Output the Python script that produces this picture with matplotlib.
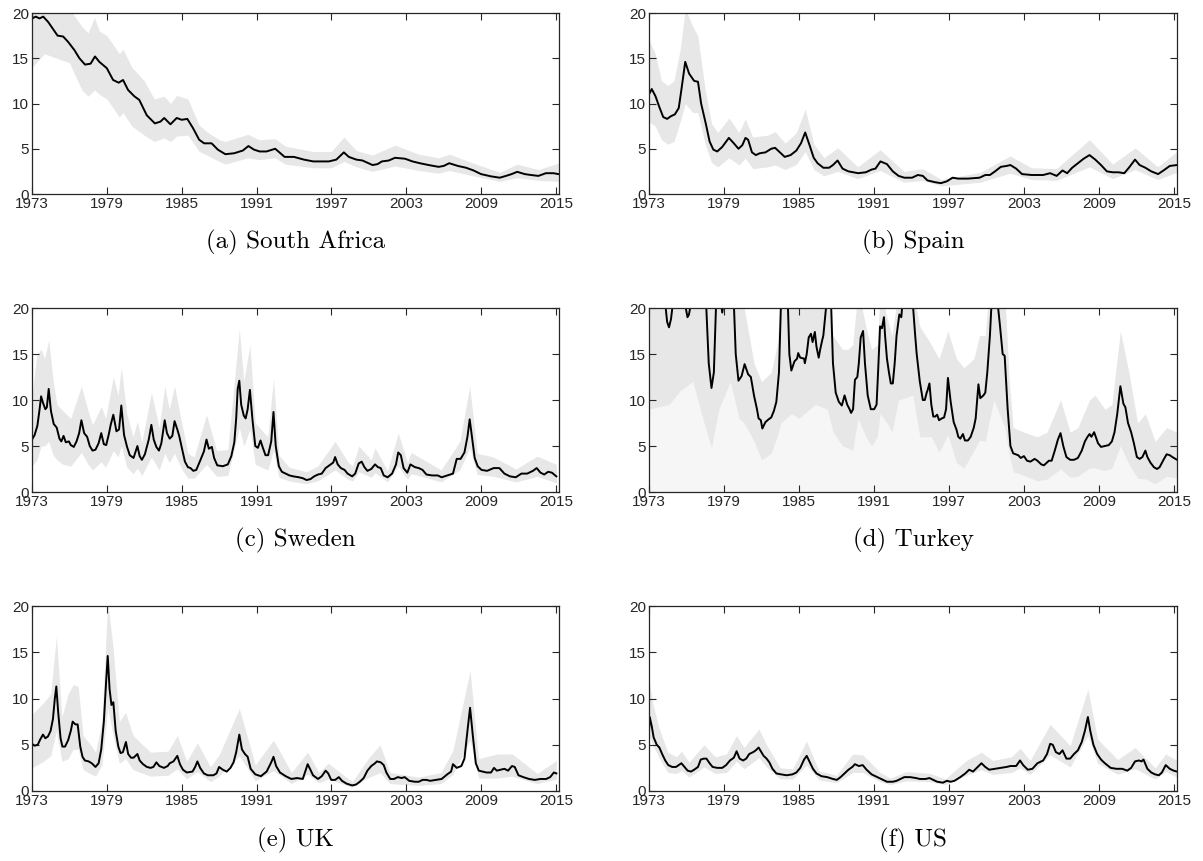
import matplotlib
matplotlib.use("Agg")
import matplotlib.pyplot as plt

# ---- South Africa ----
t_za = [1973.00, 1973.30, 1973.60, 1973.90, 1974.30, 1974.70, 1975.05, 1975.50, 1975.90, 1976.40,
        1976.80, 1977.25, 1977.70, 1978.05, 1978.40, 1979.00, 1979.50, 1979.95, 1980.30, 1980.70,
        1981.20, 1981.60, 1982.20, 1982.85, 1983.30, 1983.60, 1984.10, 1984.60, 1985.00, 1985.45,
        1985.90, 1986.40, 1986.80, 1987.40, 1987.90, 1988.50, 1989.20, 1989.90, 1990.35, 1990.80,
        1991.25, 1991.80, 1992.50, 1993.25, 1994.00, 1994.80, 1995.55, 1996.20, 1996.80, 1997.40,
        1998.00, 1998.40, 1999.00, 1999.50, 2000.30, 2000.70, 2001.05, 2001.60, 2002.10, 2002.90,
        2003.50, 2004.10, 2004.80, 2005.60, 2006.00, 2006.45, 2007.15, 2007.80, 2008.40, 2009.00,
        2009.80, 2010.50, 2011.00, 2011.45, 2011.90, 2012.50, 2013.00, 2013.60, 2014.20, 2014.80,
        2015.20]
m_za = [19.4, 19.6, 19.4, 19.6, 19.0, 18.2, 17.5, 17.4, 16.8, 15.9,
        15.0, 14.3, 14.4, 15.2, 14.6, 13.9, 12.6, 12.3, 12.6, 11.5,
        10.8, 10.4, 8.7, 7.8, 8.0, 8.4, 7.7, 8.4, 8.2, 8.3,
        7.3, 6.0, 5.6, 5.6, 4.9, 4.4, 4.5, 4.8, 5.3, 4.9,
        4.7, 4.7, 5.0, 4.1, 4.1, 3.8, 3.6, 3.6, 3.6, 3.8,
        4.6, 4.1, 3.8, 3.7, 3.2, 3.3, 3.6, 3.7, 4.0, 3.9,
        3.6, 3.4, 3.2, 3.0, 3.1, 3.4, 3.1, 2.9, 2.6, 2.2,
        1.95, 1.8, 2.0, 2.2, 2.45, 2.2, 2.1, 2.0, 2.3, 2.3,
        2.2]
bt_za = [1973.0, 1974.0, 1975.0, 1976.0, 1977.0, 1977.5, 1978.0, 1978.4, 1979.0, 1980.0,
         1980.3, 1981.0, 1982.0, 1982.8, 1983.6, 1984.1, 1984.6, 1985.5, 1986.4, 1987.0,
         1988.0, 1988.5, 1990.3, 1991.2, 1992.5, 1993.3, 1995.5, 1997.0, 1998.0, 1999.0,
         2000.3, 2002.1, 2004.0, 2005.6, 2006.45, 2008.4, 2010.5, 2011.9, 2013.6, 2015.2]
lo_za = [14.0, 15.5, 15.0, 14.5, 11.5, 10.8, 11.5, 11.0, 10.5, 8.5,
         9.0, 7.5, 6.5, 5.8, 6.2, 5.8, 6.4, 6.5, 4.7, 4.3,
         3.6, 3.3, 4.0, 3.8, 4.0, 3.3, 2.9, 2.9, 3.6, 3.0,
         2.5, 3.1, 2.6, 2.3, 2.6, 2.0, 1.4, 1.8, 1.5, 1.4]
hi_za = [20.5, 21.0, 21.0, 20.5, 18.5, 17.8, 19.5, 18.0, 17.5, 15.5,
         16.0, 14.0, 12.5, 10.5, 10.8, 10.0, 10.9, 10.5, 7.6, 6.9,
         6.0, 5.8, 6.6, 6.0, 6.1, 5.3, 4.7, 4.7, 6.3, 4.8,
         4.3, 5.4, 4.4, 4.0, 4.4, 3.4, 2.4, 3.3, 2.7, 3.4]

# ---- Spain ----
t_es = [1973.00, 1973.22, 1973.52, 1973.83, 1974.14, 1974.45, 1974.76, 1975.07, 1975.38, 1975.59,
        1975.90, 1976.21, 1976.61, 1976.92, 1977.17, 1977.54, 1977.85, 1978.15, 1978.46, 1978.86,
        1979.39, 1979.79, 1980.16, 1980.47, 1980.72, 1980.93, 1981.24, 1981.55, 1981.86, 1982.32,
        1982.78, 1983.09, 1983.40, 1983.86, 1984.33, 1984.79, 1985.16, 1985.50, 1985.87, 1986.18,
        1986.49, 1986.95, 1987.41, 1987.72, 1988.09, 1988.49, 1988.96, 1989.73, 1990.35, 1990.81,
        1991.12, 1991.52, 1992.04, 1992.51, 1992.97, 1993.43, 1994.05, 1994.51, 1994.91, 1995.28,
        1995.90, 1996.36, 1996.83, 1997.29, 1997.75, 1998.52, 1999.45, 1999.91, 2000.28, 2000.69,
        2001.15, 2001.61, 2001.92, 2002.38, 2002.85, 2003.62, 2004.54, 2005.10, 2005.62, 2006.09,
        2006.46, 2006.86, 2007.32, 2007.78, 2008.25, 2008.71, 2009.17, 2009.64, 2010.10, 2010.56,
        2011.03, 2011.40, 2011.89, 2012.26, 2012.72, 2013.19, 2013.74, 2014.17, 2014.67, 2015.25]
m_es = [11.0, 11.6, 10.8, 9.6, 8.5, 8.3, 8.6, 8.8, 9.5, 11.5,
        14.6, 13.3, 12.5, 12.4, 10.0, 7.8, 5.8, 4.9, 4.7, 5.2,
        6.2, 5.6, 5.0, 5.4, 6.2, 6.0, 4.6, 4.3, 4.5, 4.6,
        5.0, 5.1, 4.7, 4.1, 4.3, 4.8, 5.6, 6.8, 5.3, 4.0,
        3.4, 2.9, 2.9, 3.2, 3.7, 2.8, 2.5, 2.3, 2.4, 2.7,
        2.8, 3.6, 3.3, 2.5, 2.0, 1.8, 1.8, 2.1, 2.0, 1.5,
        1.3, 1.2, 1.4, 1.8, 1.7, 1.7, 1.8, 2.1, 2.1, 2.5,
        3.0, 3.1, 3.2, 2.8, 2.2, 2.1, 2.1, 2.3, 2.0, 2.6,
        2.3, 2.9, 3.4, 3.9, 4.3, 3.8, 3.2, 2.5, 2.4, 2.4,
        2.3, 2.9, 3.8, 3.2, 2.9, 2.5, 2.2, 2.6, 3.1, 3.2]
bt_es = [1973.0, 1973.5, 1974.0, 1974.5, 1975.0, 1975.5, 1975.9, 1976.5, 1976.9, 1977.5,
         1978.0, 1978.5, 1979.4, 1980.2, 1980.7, 1981.3, 1982.5, 1983.1, 1983.9, 1984.8,
         1985.5, 1986.2, 1987.0, 1988.1, 1989.7, 1991.5, 1993.4, 1994.9, 1996.4, 1999.5,
         2001.9, 2003.6, 2005.6, 2008.25, 2010.1, 2011.9, 2013.7, 2015.25]
lo_es = [8.0, 7.5, 6.0, 5.5, 5.8, 8.0, 10.0, 9.0, 9.0, 5.5,
         3.5, 3.0, 4.0, 3.2, 4.0, 2.8, 3.0, 3.2, 2.7, 3.3,
         4.7, 2.7, 2.0, 2.5, 1.7, 2.6, 1.3, 1.5, 0.9, 1.3,
         2.3, 1.6, 1.5, 3.0, 1.7, 2.7, 1.6, 2.4]
hi_es = [17.0, 15.5, 12.5, 12.0, 12.5, 16.0, 20.5, 18.5, 17.5, 11.5,
         7.8, 6.8, 8.4, 6.8, 8.3, 6.3, 6.5, 6.9, 5.6, 6.8,
         9.4, 5.5, 4.0, 5.1, 3.0, 4.9, 2.5, 2.8, 1.6, 2.4,
         4.2, 2.9, 2.8, 6.0, 3.3, 5.1, 3.0, 4.7]

# ---- Sweden ----
t_se = [1973.00, 1973.21, 1973.43, 1973.61, 1973.73, 1973.88, 1974.07, 1974.19, 1974.34, 1974.52,
        1974.74, 1974.98, 1975.20, 1975.35, 1975.53, 1975.71, 1975.96, 1976.11, 1976.35, 1976.57,
        1976.78, 1976.96, 1977.18, 1977.42, 1977.63, 1977.85, 1978.09, 1978.34, 1978.55, 1978.76,
        1978.95, 1979.16, 1979.31, 1979.52, 1979.77, 1979.98, 1980.16, 1980.38, 1980.62, 1980.84,
        1981.14, 1981.45, 1981.63, 1981.81, 1982.05, 1982.36, 1982.57, 1982.76, 1982.97, 1983.18,
        1983.37, 1983.64, 1983.82, 1984.04, 1984.25, 1984.43, 1984.65, 1984.80, 1985.01, 1985.26,
        1985.50, 1985.71, 1985.93, 1986.17, 1986.48, 1986.78, 1986.99, 1987.18, 1987.42, 1987.60,
        1987.85, 1988.30, 1988.70, 1988.98, 1989.22, 1989.37, 1989.49, 1989.62, 1989.77, 1989.98,
        1990.13, 1990.29, 1990.47, 1990.68, 1990.90, 1991.11, 1991.32, 1991.51, 1991.72, 1991.93,
        1992.18, 1992.36, 1992.54, 1992.79, 1993.03, 1993.34, 1993.64, 1993.95, 1994.40, 1994.71,
        1995.01, 1995.32, 1995.62, 1995.93, 1996.23, 1996.54, 1996.84, 1997.15, 1997.30, 1997.51,
        1997.76, 1998.06, 1998.30, 1998.67, 1998.91, 1999.19, 1999.43, 1999.65, 1999.89, 2000.20,
        2000.50, 2000.74, 2000.96, 2001.20, 2001.51, 2001.87, 2002.18, 2002.36, 2002.57, 2002.79,
        2003.09, 2003.34, 2003.70, 2004.01, 2004.31, 2004.62, 2005.07, 2005.53, 2005.84, 2006.29,
        2006.75, 2007.05, 2007.36, 2007.67, 2007.91, 2008.09, 2008.27, 2008.49, 2008.73, 2009.04,
        2009.49, 2010.01, 2010.47, 2010.87, 2011.32, 2011.78, 2012.24, 2012.70, 2013.16, 2013.46,
        2013.77, 2014.07, 2014.38, 2014.68, 2015.04]
m_se = [5.7, 6.2, 7.2, 9.0, 10.4, 9.7, 9.0, 9.2, 11.2, 8.8,
        7.4, 7.0, 5.8, 5.5, 6.1, 5.4, 5.5, 5.1, 4.9, 5.5,
        6.4, 7.8, 6.4, 6.0, 5.0, 4.5, 4.6, 5.3, 6.4, 5.2,
        5.1, 6.3, 7.3, 8.4, 6.6, 6.8, 9.4, 6.2, 4.9, 4.0,
        3.7, 5.0, 3.9, 3.5, 4.1, 5.7, 7.3, 5.7, 4.9, 4.5,
        5.3, 7.8, 6.4, 5.8, 6.1, 7.7, 6.8, 6.1, 4.8, 3.3,
        2.7, 2.6, 2.3, 2.4, 3.4, 4.4, 5.7, 4.7, 4.9, 3.7,
        2.9, 2.8, 3.0, 3.9, 5.4, 8.0, 11.2, 12.1, 9.5, 8.3,
        8.0, 9.0, 11.1, 7.8, 5.0, 4.8, 5.6, 4.8, 4.0, 4.0,
        5.5, 8.7, 5.0, 2.8, 2.2, 2.0, 1.8, 1.7, 1.6, 1.5,
        1.3, 1.4, 1.7, 1.9, 2.0, 2.6, 2.9, 3.2, 3.8, 3.0,
        2.6, 2.4, 2.0, 1.7, 2.0, 3.1, 3.3, 2.7, 2.3, 2.5,
        3.0, 2.7, 2.6, 1.8, 1.6, 2.0, 3.0, 4.3, 4.0, 2.6,
        2.1, 3.0, 2.7, 2.6, 2.4, 1.9, 1.8, 1.8, 1.6, 1.8,
        2.0, 3.6, 3.6, 4.3, 6.0, 7.9, 6.0, 3.7, 2.8, 2.4,
        2.3, 2.6, 2.6, 2.0, 1.7, 1.6, 2.0, 2.0, 2.3, 2.6,
        2.1, 1.9, 2.2, 2.1, 1.7]
bt_se = [1973.0, 1973.4, 1973.73, 1974.0, 1974.34, 1974.7, 1975.0, 1975.5, 1976.1, 1976.96,
         1977.5, 1977.85, 1978.55, 1978.9, 1979.52, 1979.9, 1980.16, 1980.6, 1981.1, 1981.45,
         1981.8, 1982.57, 1983.2, 1983.64, 1984.0, 1984.43, 1985.0, 1985.5, 1986.0, 1986.99,
         1987.8, 1988.7, 1989.62, 1989.98, 1990.47, 1990.9, 1991.9, 1992.36, 1992.8, 1993.6,
         1995.0, 1995.9, 1997.3, 1998.3, 1998.7, 1999.2, 2000.2, 2000.5, 2001.5, 2002.36,
         2003.1, 2003.4, 2005.8, 2007.3, 2008.09, 2008.7, 2010.0, 2011.8, 2013.5, 2015.04]
lo_se = [2.8, 3.5, 5.0, 5.0, 5.5, 4.0, 3.5, 3.0, 2.8, 4.3,
         3.0, 2.4, 3.3, 2.7, 4.5, 3.8, 5.0, 2.7, 2.0, 2.6,
         1.8, 3.8, 2.4, 4.2, 3.2, 4.2, 2.5, 1.5, 1.5, 3.0,
         1.7, 1.8, 7.0, 5.0, 6.8, 3.0, 2.4, 4.5, 1.6, 1.2,
         0.9, 1.2, 2.4, 1.4, 1.2, 2.2, 1.6, 2.1, 1.1, 2.8,
         1.4, 2.0, 1.1, 2.4, 4.8, 1.9, 1.7, 1.1, 1.7, 1.0]
hi_se = [10.5, 15.0, 15.5, 14.5, 16.5, 12.0, 9.5, 8.8, 8.0, 11.5,
         8.8, 7.3, 9.3, 8.0, 12.5, 10.5, 13.5, 8.5, 6.0, 7.7,
         5.4, 10.8, 7.0, 11.5, 9.0, 11.5, 7.5, 4.2, 3.8, 8.4,
         4.5, 4.6, 17.7, 12.0, 16.0, 7.5, 6.0, 12.3, 4.0, 2.7,
         2.2, 2.8, 5.5, 3.3, 2.8, 5.0, 3.5, 4.8, 2.3, 6.4,
         3.2, 4.3, 2.4, 5.5, 11.5, 4.2, 3.8, 2.5, 3.9, 3.0]

# ---- Turkey (values above 20 run off the top of the panel) ----
t_tr = [1973.00, 1973.68, 1974.30, 1974.45, 1974.60, 1974.76, 1974.91, 1975.38, 1975.90, 1976.08,
        1976.20, 1976.33, 1976.92, 1977.57, 1977.78, 1978.00, 1978.19, 1978.37, 1978.77, 1978.86,
        1978.96, 1979.39, 1979.79, 1979.94, 1980.16, 1980.41, 1980.65, 1980.93, 1981.15, 1981.40,
        1981.64, 1981.77, 1981.95, 1982.07, 1982.32, 1982.57, 1982.78, 1982.99, 1983.19, 1983.40,
        1983.56, 1983.86, 1984.11, 1984.23, 1984.39, 1984.64, 1984.85, 1984.94, 1985.10, 1985.41,
        1985.47, 1985.62, 1985.78, 1985.96, 1986.09, 1986.27, 1986.40, 1986.58, 1986.70, 1986.86,
        1986.95, 1987.20, 1987.41, 1987.57, 1987.72, 1987.94, 1988.19, 1988.43, 1988.65, 1988.86,
        1989.05, 1989.17, 1989.33, 1989.48, 1989.67, 1989.79, 1989.94, 1990.13, 1990.28, 1990.50,
        1990.75, 1991.02, 1991.21, 1991.33, 1991.49, 1991.64, 1991.80, 1991.89, 1992.04, 1992.20,
        1992.35, 1992.51, 1992.66, 1992.81, 1993.03, 1993.19, 1993.28, 1993.68, 1994.11, 1994.30,
        1994.42, 1994.67, 1994.91, 1995.07, 1995.22, 1995.28, 1995.44, 1995.59, 1995.75, 1995.90,
        1996.06, 1996.21, 1996.43, 1996.61, 1996.77, 1996.92, 1997.14, 1997.38, 1997.60, 1997.75,
        1997.91, 1998.12, 1998.28, 1998.52, 1998.74, 1998.99, 1999.14, 1999.36, 1999.51, 1999.76,
        1999.91, 2000.07, 2000.28, 2000.41, 2000.65, 2000.90, 2001.09, 2001.30, 2001.46, 2001.70,
        2001.92, 2002.14, 2002.54, 2002.75, 2003.00, 2003.25, 2003.52, 2003.86, 2004.08, 2004.39,
        2004.60, 2005.00, 2005.22, 2005.47, 2005.72, 2005.93, 2006.15, 2006.40, 2006.70, 2007.01,
        2007.32, 2007.63, 2007.88, 2008.09, 2008.25, 2008.40, 2008.62, 2008.93, 2009.17, 2009.48,
        2009.79, 2010.04, 2010.25, 2010.47, 2010.72, 2010.96, 2011.12, 2011.33, 2011.58, 2011.80,
        2012.04, 2012.26, 2012.48, 2012.72, 2012.88, 2013.12, 2013.40, 2013.65, 2013.86, 2014.17,
        2014.42, 2014.67, 2014.88, 2015.25]
m_tr = [23.0, 23.0, 20.5, 18.5, 17.9, 18.8, 20.5, 23.0, 20.3, 19.0,
        19.3, 20.3, 23.0, 20.5, 14.0, 11.3, 13.0, 20.5, 20.5, 19.5,
        20.5, 23.0, 20.5, 15.0, 12.1, 12.6, 13.9, 12.8, 12.5, 10.5,
        9.0, 8.0, 7.8, 6.9, 7.6, 7.9, 8.1, 8.8, 9.8, 13.0,
        20.5, 23.0, 20.5, 15.0, 13.2, 14.2, 14.5, 15.1, 14.6, 14.5,
        14.0, 15.0, 16.8, 17.2, 16.3, 17.4, 15.8, 14.6, 15.5, 16.5,
        17.0, 20.5, 23.0, 20.5, 14.0, 10.8, 9.8, 9.4, 10.5, 9.5,
        9.0, 8.6, 9.0, 12.2, 12.5, 14.0, 16.8, 17.5, 14.0, 10.5,
        9.0, 9.0, 9.5, 13.0, 18.0, 17.8, 19.0, 17.0, 14.5, 13.0,
        11.8, 11.8, 14.0, 17.0, 19.3, 19.0, 20.5, 23.0, 20.5, 17.0,
        15.0, 12.0, 10.0, 10.0, 10.8, 11.0, 11.8, 9.5, 8.2, 8.2,
        8.4, 7.8, 8.0, 8.1, 9.0, 12.4, 9.8, 7.6, 6.8, 6.0,
        5.8, 6.3, 5.6, 5.6, 6.0, 7.0, 8.0, 11.7, 10.2, 10.5,
        10.8, 13.0, 17.0, 20.5, 23.0, 20.5, 18.0, 15.0, 14.8, 9.0,
        5.0, 4.2, 4.0, 3.7, 3.9, 3.4, 3.3, 3.6, 3.4, 3.0,
        2.9, 3.4, 3.4, 4.5, 5.7, 6.4, 5.0, 3.8, 3.5, 3.5,
        3.7, 4.5, 5.5, 6.0, 6.3, 6.0, 6.5, 5.3, 4.9, 5.0,
        5.1, 5.5, 6.5, 8.5, 11.5, 9.6, 9.2, 7.5, 6.5, 5.3,
        3.8, 3.6, 3.8, 4.5, 3.8, 3.2, 2.7, 2.5, 2.7, 3.5,
        4.1, 4.0, 3.8, 3.5]
bt_tr = [1973.0, 1974.6, 1975.5, 1976.5, 1977.5, 1978.0, 1978.6, 1979.5, 1980.2, 1980.62,
         1981.4, 1982.01, 1982.78, 1983.25, 1983.56, 1984.4, 1985.0, 1986.3, 1987.26, 1987.72,
         1988.49, 1988.9, 1989.3, 1989.73, 1990.35, 1990.81, 1991.27, 1991.5, 1992.04, 1992.44,
         1992.97, 1994.11, 1994.67, 1995.59, 1996.21, 1996.92, 1997.6, 1998.2, 1999.0, 1999.45,
         1999.91, 2000.2, 2000.6, 2001.46, 2001.83, 2002.14, 2003.0, 2004.08, 2004.85, 2005.93,
         2006.7, 2007.32, 2008.25, 2008.7, 2009.48, 2010.04, 2010.72, 2011.4, 2012.1, 2012.72,
         2013.5, 2014.42, 2015.25]
hi_tr = [25.0, 25.0, 25.0, 25.0, 25.0, 25.0, 25.0, 25.0, 22.0, 20.0,
         14.0, 12.0, 13.0, 16.0, 22.0, 25.0, 25.0, 25.0, 22.0, 17.0,
         15.5, 15.5, 16.0, 22.0, 18.0, 15.5, 16.0, 22.0, 19.0, 17.0,
         22.0, 22.0, 18.0, 16.0, 14.5, 17.5, 14.5, 13.5, 14.5, 17.0,
         17.0, 22.0, 25.0, 22.0, 12.0, 7.0, 6.5, 6.0, 6.5, 10.0,
         6.5, 7.0, 10.0, 10.5, 9.0, 9.5, 17.5, 13.0, 7.5, 8.5,
         5.5, 7.0, 6.5]
lo_tr = [9.0, 9.5, 11.0, 12.0, 7.0, 4.8, 9.0, 12.0, 8.0, 7.5,
         5.5, 3.5, 4.2, 6.0, 7.5, 8.5, 8.0, 9.5, 9.0, 6.5,
         5.0, 4.8, 4.5, 8.0, 6.0, 5.0, 6.0, 8.5, 7.5, 6.5,
         10.0, 10.5, 6.0, 6.0, 4.3, 6.2, 3.2, 2.6, 4.5, 5.6,
         5.5, 7.5, 10.0, 7.0, 4.0, 2.2, 1.8, 1.2, 1.4, 2.5,
         1.6, 1.7, 2.6, 2.6, 2.3, 2.6, 5.0, 3.0, 1.5, 1.4,
         0.9, 1.7, 1.5]

# ---- UK ----
t_uk = [1973.00, 1973.21, 1973.46, 1973.67, 1973.88, 1974.07, 1974.28, 1974.49, 1974.68, 1974.83,
        1974.95, 1975.10, 1975.29, 1975.44, 1975.65, 1975.90, 1976.11, 1976.26, 1976.48, 1976.66,
        1976.87, 1977.05, 1977.24, 1977.54, 1977.79, 1978.09, 1978.34, 1978.55, 1978.76, 1978.95,
        1979.07, 1979.22, 1979.37, 1979.52, 1979.71, 1979.92, 1980.10, 1980.29, 1980.53, 1980.71,
        1980.93, 1981.14, 1981.45, 1981.63, 1981.90, 1982.21, 1982.51, 1982.73, 1982.97, 1983.21,
        1983.58, 1983.88, 1984.04, 1984.34, 1984.65, 1984.86, 1985.10, 1985.41, 1985.87, 1986.08,
        1986.26, 1986.48, 1986.78, 1987.09, 1987.54, 1987.79, 1988.00, 1988.30, 1988.61, 1988.91,
        1989.16, 1989.37, 1989.62, 1989.83, 1990.07, 1990.29, 1990.53, 1990.90, 1991.35, 1991.81,
        1992.18, 1992.36, 1992.57, 1992.88, 1993.34, 1993.79, 1994.25, 1994.71, 1995.10, 1995.32,
        1995.53, 1995.93, 1996.23, 1996.54, 1996.75, 1996.99, 1997.30, 1997.60, 1997.85, 1998.21,
        1998.67, 1998.98, 1999.28, 1999.59, 1999.89, 2000.20, 2000.50, 2000.65, 2000.96, 2001.20,
        2001.41, 2001.72, 2002.02, 2002.33, 2002.63, 2002.88, 2003.24, 2003.70, 2004.01, 2004.31,
        2004.62, 2004.92, 2005.38, 2005.84, 2006.29, 2006.60, 2006.75, 2007.05, 2007.42, 2007.67,
        2007.91, 2008.12, 2008.34, 2008.58, 2008.82, 2009.13, 2009.43, 2009.80, 2010.04, 2010.26,
        2010.56, 2010.87, 2011.17, 2011.48, 2011.70, 2012.00, 2012.39, 2012.85, 2013.31, 2013.76,
        2014.22, 2014.54, 2014.84, 2015.04]
m_uk = [5.1, 4.9, 5.0, 5.6, 6.1, 5.7, 5.9, 6.5, 7.8, 10.0,
        11.3, 8.5, 5.7, 4.8, 4.8, 5.5, 6.5, 7.5, 7.2, 7.2,
        4.8, 3.7, 3.3, 3.2, 3.0, 2.6, 3.0, 4.5, 7.5, 12.0,
        14.6, 11.0, 9.3, 9.6, 6.5, 4.8, 4.1, 4.2, 5.3, 4.0,
        3.6, 3.6, 4.0, 3.3, 2.9, 2.6, 2.5, 2.6, 3.1, 2.7,
        2.5, 2.7, 3.0, 3.2, 3.8, 2.9, 2.3, 2.0, 2.1, 2.6,
        3.2, 2.5, 1.9, 1.7, 1.7, 1.9, 2.6, 2.3, 2.1, 2.5,
        3.1, 4.2, 6.1, 4.5, 4.0, 3.7, 2.4, 1.8, 1.6, 2.1,
        3.1, 3.7, 2.7, 2.0, 1.6, 1.3, 1.4, 1.3, 2.9, 2.3,
        1.7, 1.3, 1.6, 2.2, 1.9, 1.2, 1.2, 1.5, 1.1, 0.8,
        0.6, 0.7, 1.0, 1.4, 2.2, 2.7, 3.0, 3.2, 3.1, 2.8,
        2.0, 1.3, 1.3, 1.5, 1.4, 1.5, 1.1, 1.0, 1.0, 1.2,
        1.2, 1.1, 1.2, 1.3, 1.8, 2.1, 2.9, 2.5, 2.7, 3.5,
        6.5, 9.0, 6.0, 3.0, 2.2, 2.1, 2.0, 2.0, 2.5, 2.2,
        2.3, 2.4, 2.2, 2.7, 2.6, 1.7, 1.5, 1.3, 1.2, 1.3,
        1.3, 1.5, 2.0, 1.9]
bt_uk = [1973.0, 1973.9, 1974.5, 1974.95, 1975.4, 1975.9, 1976.3, 1976.7, 1977.1, 1977.8,
         1978.1, 1978.6, 1979.07, 1979.5, 1980.0, 1980.5, 1981.1, 1982.5, 1983.9, 1984.65,
         1985.4, 1986.26, 1987.3, 1988.0, 1989.62, 1990.3, 1990.9, 1992.36, 1993.8, 1995.1,
         1996.0, 1996.75, 1998.67, 1999.9, 2000.9, 2001.7, 2004.0, 2005.8, 2006.75, 2008.12,
         2008.8, 2010.3, 2011.5, 2013.5, 2015.04]
lo_uk = [2.5, 3.2, 3.8, 6.5, 3.2, 3.5, 4.5, 4.5, 2.3, 1.8,
         1.6, 2.8, 9.0, 6.0, 3.0, 3.5, 2.3, 1.6, 1.7, 2.4,
         1.3, 2.1, 1.0, 1.6, 3.8, 2.4, 1.1, 2.2, 0.8, 1.8,
         0.9, 1.3, 0.4, 1.4, 2.0, 0.8, 0.6, 0.8, 1.8, 5.5,
         1.4, 1.4, 1.6, 0.8, 1.3]
hi_uk = [8.3, 9.5, 10.5, 16.7, 8.0, 10.5, 11.5, 11.3, 6.0, 4.8,
         4.2, 7.5, 20.5, 15.5, 7.5, 8.5, 6.0, 4.2, 4.3, 6.0,
         3.2, 5.2, 2.6, 3.9, 8.9, 5.7, 2.8, 5.5, 2.0, 4.2,
         2.0, 3.0, 1.0, 3.4, 5.0, 2.0, 1.5, 2.0, 4.4, 13.0,
         3.5, 4.0, 4.0, 1.9, 3.3]

# ---- US ----
t_us = [1973.00, 1973.06, 1973.22, 1973.37, 1973.62, 1973.83, 1974.05, 1974.30, 1974.54, 1974.85,
        1975.16, 1975.38, 1975.59, 1975.84, 1976.09, 1976.36, 1976.61, 1976.92, 1977.14, 1977.38,
        1977.60, 1977.85, 1978.09, 1978.46, 1978.86, 1979.17, 1979.48, 1979.79, 1980.01, 1980.25,
        1980.53, 1980.78, 1981.02, 1981.33, 1981.55, 1981.77, 1981.95, 1982.17, 1982.41, 1982.63,
        1982.88, 1983.19, 1983.56, 1984.02, 1984.48, 1984.79, 1985.10, 1985.41, 1985.62, 1985.87,
        1986.12, 1986.40, 1986.80, 1987.26, 1987.72, 1988.03, 1988.33, 1988.65, 1988.96, 1989.27,
        1989.48, 1989.79, 1990.10, 1990.41, 1990.81, 1991.27, 1991.73, 1992.04, 1992.51, 1992.81,
        1993.12, 1993.43, 1993.90, 1994.36, 1994.67, 1995.13, 1995.44, 1995.75, 1996.06, 1996.52,
        1996.83, 1997.14, 1997.44, 1997.91, 1998.31, 1998.62, 1998.93, 1999.23, 1999.60, 1999.91,
        2000.22, 2000.69, 2001.15, 2001.61, 2001.92, 2002.38, 2002.69, 2002.94, 2003.31, 2003.68,
        2004.08, 2004.54, 2004.85, 2005.10, 2005.31, 2005.56, 2005.84, 2006.09, 2006.40, 2006.70,
        2007.01, 2007.32, 2007.63, 2007.88, 2008.12, 2008.31, 2008.56, 2008.86, 2009.17, 2009.48,
        2009.94, 2010.40, 2010.86, 2011.27, 2011.58, 2011.89, 2012.20, 2012.41, 2012.57, 2012.88,
        2013.19, 2013.49, 2013.80, 2014.04, 2014.35, 2014.67, 2014.98, 2015.25]
m_us = [6.5, 8.0, 7.0, 5.8, 5.0, 4.7, 4.0, 3.3, 2.8, 2.6,
        2.6, 2.8, 3.0, 2.6, 2.2, 2.1, 2.3, 2.6, 3.4, 3.5,
        3.5, 3.0, 2.6, 2.5, 2.5, 2.8, 3.3, 3.6, 4.3, 3.5,
        3.3, 3.5, 4.0, 4.2, 4.4, 4.7, 4.3, 3.8, 3.5, 3.1,
        2.4, 1.9, 1.8, 1.7, 1.8, 2.0, 2.5, 3.4, 3.8, 3.1,
        2.4, 1.9, 1.6, 1.5, 1.3, 1.2, 1.5, 1.9, 2.3, 2.6,
        2.9, 2.7, 2.8, 2.3, 1.8, 1.5, 1.2, 1.0, 1.0, 1.1,
        1.3, 1.5, 1.5, 1.4, 1.3, 1.3, 1.4, 1.2, 1.0, 0.9,
        1.1, 1.0, 1.1, 1.5, 1.9, 2.3, 2.1, 2.5, 3.0, 2.6,
        2.3, 2.4, 2.5, 2.6, 2.7, 2.7, 3.3, 2.8, 2.3, 2.4,
        3.0, 3.3, 4.0, 5.1, 5.0, 4.2, 4.0, 4.4, 3.5, 3.5,
        4.0, 4.4, 5.3, 6.5, 8.0, 6.5, 5.0, 4.0, 3.4, 3.0,
        2.5, 2.4, 2.4, 2.2, 2.5, 3.2, 3.3, 3.2, 3.4, 2.4,
        2.0, 1.8, 1.7, 2.0, 2.8, 2.4, 2.2, 2.1]
bt_us = [1973.0, 1973.3, 1973.8, 1974.5, 1975.2, 1975.6, 1976.2, 1977.4, 1978.3, 1979.2,
         1980.0, 1980.6, 1981.8, 1982.4, 1983.5, 1984.5, 1985.6, 1986.6, 1988.0, 1989.3,
         1990.1, 1991.5, 1992.3, 1993.6, 1995.5, 1996.7, 1998.4, 1999.6, 2000.5, 2002.0,
         2002.7, 2003.5, 2005.1, 2006.7, 2008.12, 2008.9, 2010.5, 2011.9, 2013.5, 2014.35,
         2015.25]
lo_us = [6.0, 5.0, 3.6, 2.0, 1.9, 2.2, 1.5, 2.6, 1.9, 2.0,
         3.2, 2.4, 3.6, 2.6, 1.3, 1.3, 2.8, 1.2, 0.9, 2.0,
         2.0, 1.0, 0.7, 1.1, 1.0, 0.7, 1.7, 2.3, 1.8, 2.0,
         2.5, 1.8, 3.9, 2.6, 6.0, 3.0, 1.8, 2.4, 1.3, 2.1,
         1.5]
hi_us = [12.0, 9.5, 6.8, 4.2, 3.7, 4.3, 3.1, 5.0, 3.7, 4.0,
         6.0, 4.7, 6.7, 5.0, 2.5, 2.4, 5.4, 2.2, 1.7, 4.0,
         3.9, 2.0, 1.4, 2.1, 1.9, 1.3, 3.3, 4.2, 3.3, 3.7,
         4.6, 3.3, 7.2, 4.9, 11.0, 5.6, 3.4, 4.7, 2.5, 4.0,
         3.3]

captions = ["(a) South Africa", "(b) Spain", "(c) Sweden", "(d) Turkey", "(e) UK", "(f) US"]
xticks = [1973, 1979, 1985, 1991, 1997, 2003, 2009, 2015]
yticks = [0, 5, 10, 15, 20]

panels = [
    (t_za, m_za, bt_za, lo_za, hi_za),
    (t_es, m_es, bt_es, lo_es, hi_es),
    (t_se, m_se, bt_se, lo_se, hi_se),
    (t_tr, m_tr, bt_tr, lo_tr, hi_tr),
    (t_uk, m_uk, bt_uk, lo_uk, hi_uk),
    (t_us, m_us, bt_us, lo_us, hi_us),
]

W, H = 1203, 861
fig = plt.figure(figsize=(W / 100, H / 100), dpi=100)
col_x = [(32, 559), (649, 1177)]
row_y = [(13, 194), (308, 492), (606, 791)]
axc = "#262626"

for i, (t, m, bt, lo, hi) in enumerate(panels):
    x0, x1 = col_x[i % 2]
    y0, y1 = row_y[i // 2]
    ax = fig.add_axes([x0 / W, 1 - y1 / H, (x1 - x0) / W, (y1 - y0) / H])
    if i == 3:
        # faint shading below the inner band for Turkey
        ax.fill_between(bt, 0, lo, color="#f6f6f6", lw=0)
    ax.fill_between(bt, lo, hi, color="#e7e7e7", lw=0)
    ax.plot(t, m, color="black", lw=1.4)
    ax.set_xlim(1973, 2015.25)
    ax.set_ylim(0, 20)
    ax.set_xticks(xticks)
    ax.set_yticks(yticks)
    ax.tick_params(direction="in", length=5, width=0.8, top=True, right=True,
                   colors=axc, labelsize=11, pad=2)
    for lab in ax.get_xticklabels() + ax.get_yticklabels():
        lab.set_fontfamily("Liberation Sans")
    for s in ax.spines.values():
        s.set_color(axc)
        s.set_linewidth(0.9)
    ax.text(0.5, -0.265, captions[i], transform=ax.transAxes, ha="center", va="center",
            fontsize=18, family="cmr10", color="black")

fig.savefig("out.png", dpi=100)
